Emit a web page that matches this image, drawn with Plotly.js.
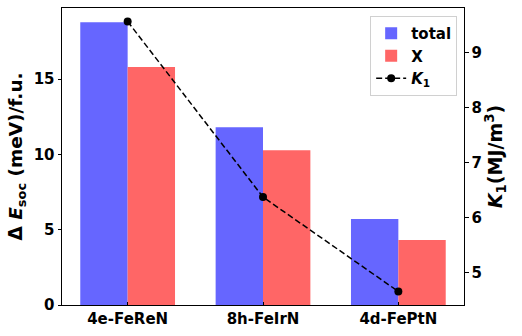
<!DOCTYPE html>
<html><head><meta charset="utf-8">
<script src="https://cdn.plot.ly/plotly-3.0.1.min.js"></script>
<style>body{margin:0;background:#fff}#c{width:522px;height:336px}</style>
</head><body><div id="c"></div>
<script>
const categories = ["4e-FeReN", "8h-FeIrN", "4d-FePtN"];
const totalValues = [18.78, 11.81, 5.71];
const xValues = [15.81, 10.28, 4.31];
const k1Values = [9.57, 6.37, 4.65];

const F = {family: "DejaVu Sans", size: 15, color: "#000", weight: "bold"};

const traces = [
  {type: "bar", name: "total", x: categories, y: totalValues, legendgroup: "a",
   marker: {color: "rgb(102,102,255)"}, offsetgroup: "a"},
  {type: "bar", name: "X", x: categories, y: xValues, legendgroup: "b",
   marker: {color: "rgb(255,102,102)"}, offsetgroup: "b"},
  {type: "scatter", mode: "lines+markers", name: "<i>K</i><sub>1</sub>", legendgroup: "c",
   x: categories, y: k1Values, yaxis: "y2",
   line: {color: "#000", width: 1.5, dash: "6px,3px"},
   marker: {color: "#000", size: 8, symbol: "circle"}}
];

const layout = {
  width: 522, height: 336,
  margin: {l: 62, r: 58, t: 8, b: 31},
  paper_bgcolor: "#fff", plot_bgcolor: "#fff",
  barmode: "group", bargap: 0.3, bargroupgap: 0,
  font: F,
  showlegend: true,
  legend: {x: 0.983, y: 0.973, xanchor: "right", yanchor: "top",
    bgcolor: "rgba(255,255,255,0.8)", bordercolor: "#d0d0d0", borderwidth: 1,
    font: {family: "DejaVu Sans", size: 15, color: "#000", weight: "bold"},
    tracegroupgap: 0, itemwidth: 30},
  xaxis: {type: "category", range: [-0.485, 2.485],
    showline: true, linecolor: "#000", linewidth: 1, mirror: true,
    ticks: "inside", ticklen: 3.5, tickcolor: "#000",
    showgrid: false, zeroline: false, tickfont: F},
  yaxis: {range: [0, 19.72], tickvals: [0, 5, 10, 15],
    showline: true, linecolor: "#000", linewidth: 1,
    ticks: "outside", ticklen: 3.5, tickcolor: "#000",
    showgrid: false, zeroline: false, tickfont: F,
    title: {text: "Δ <i>E</i><sub>soc</sub> (meV)/f.u.", font: {family: "DejaVu Sans", size: 18.5, color: "#000", weight: "bold"}, standoff: 6}},
  yaxis2: {overlaying: "y", side: "right", range: [4.404, 9.816], tickvals: [5, 6, 7, 8, 9],
    showline: true, linecolor: "#000", linewidth: 1,
    ticks: "outside", ticklen: 3.5, tickcolor: "#000",
    showgrid: false, zeroline: false, tickfont: F,
    title: {text: "<i>K</i><sub>1</sub>(MJ/m<sup>3</sup>)", font: {family: "DejaVu Sans", size: 19, color: "#000", weight: "bold"}, standoff: 6}}
};

Plotly.newPlot("c", traces, layout, {displayModeBar: false, staticPlot: true});
</script></body></html>
